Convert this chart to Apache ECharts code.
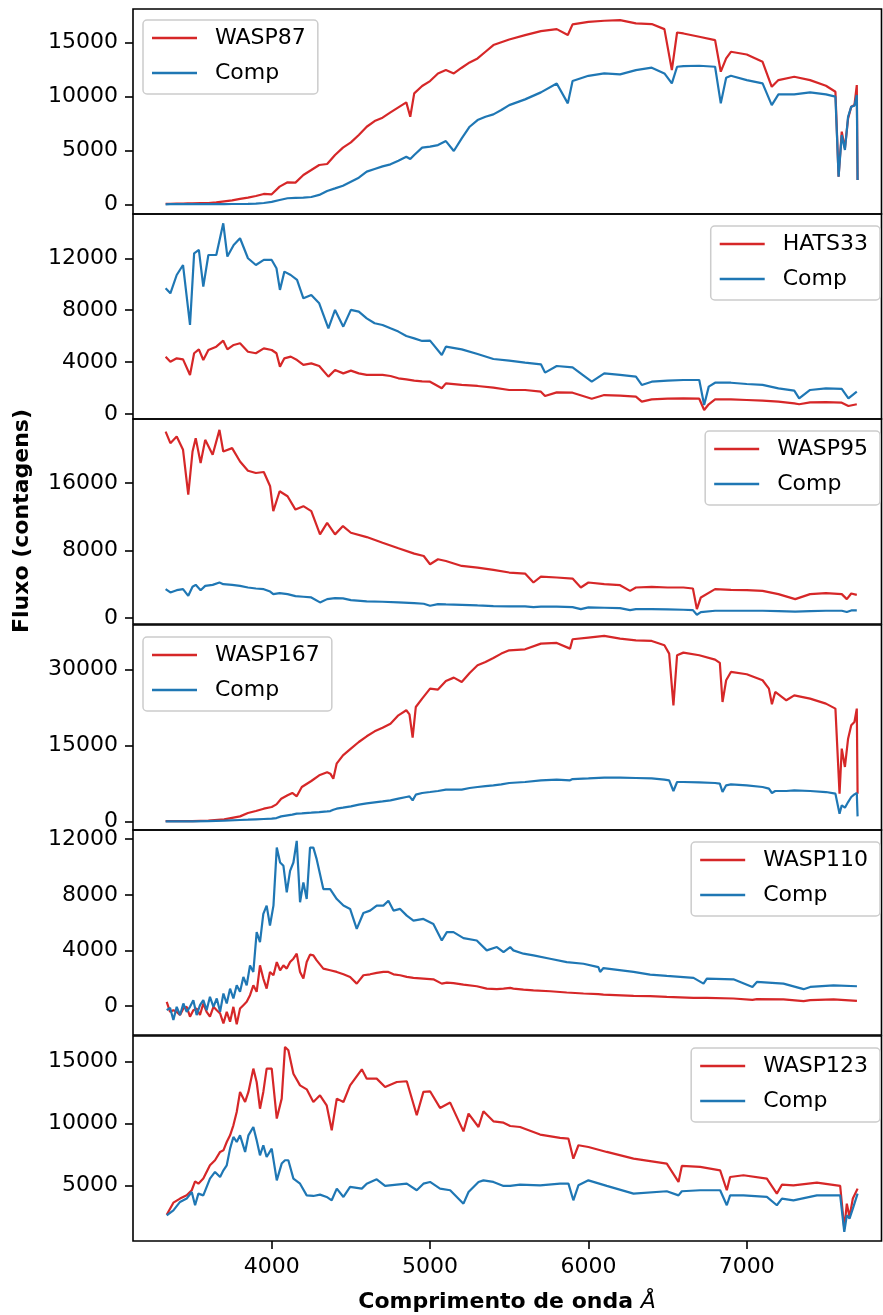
<!DOCTYPE html>
<html>
<head>
<meta charset="utf-8">
<script src="https://cdn.jsdelivr.net/npm/echarts@6/dist/echarts.min.js"></script>
<style>html,body{margin:0;padding:0;background:#fff}#c{width:883px;height:1315px}</style>
</head>
<body>
<div id="c"></div>
<script>
// ---------- data (wavelength in Å, flux in counts) ----------
const xTicks = [4000, 5000, 6000, 7000];

const wl1 = [3330,3360,3400,3440,3470,3500,3550,3600,3650,3700,3750,3800,3850,3900,3950,4000,4050,4100,4150,4200,4250,4300,4350,4400,4450,4500,4550,4600,4650,4700,4750,4800,4850,4875,4900,4950,5000,5050,5100,5150,5200,5250,5300,5350,5400,5450,5500,5600,5700,5800,5870,5900,6000,6100,6200,6300,6400,6480,6527,6560,6600,6700,6800,6836,6870,6900,7000,7100,7158,7200,7300,7400,7500,7560,7580,7600,7620,7640,7660,7680,7695,7700];
const wasp87 = [50,50,60,70,80,90,110,120,180,280,370,500,620,770,960,930,1640,2040,2010,2720,3180,3650,3740,4580,5260,5750,6430,7200,7730,8040,8530,9000,9460,8130,10300,10980,11440,12150,12460,12150,12680,13170,13540,14160,14780,15050,15300,15710,16080,16260,15710,16700,16940,17040,17100,16790,16730,16260,12460,15950,15860,15550,15240,12310,13540,14160,13910,13230,10910,11530,11840,11530,11010,10450,2570,6740,5190,7980,9060,9210,11070,2260];
const comp1 = [0,10,20,20,20,20,20,20,25,25,30,30,40,60,120,220,400,560,590,620,680,870,1240,1480,1730,2100,2470,3030,3280,3520,3710,4050,4420,4200,4580,5260,5350,5500,5870,4950,6120,7200,7820,8130,8350,8750,9210,9740,10390,11220,9370,11440,11930,12150,12060,12460,12680,12150,11220,12770,12830,12860,12770,9370,11750,11930,11530,11220,9210,10200,10200,10390,10200,9990,2570,6430,5040,8130,9060,9150,10140,2260];
const yTicks1 = [0, 5000, 10000, 15000];

const wl2 = [3330,3360,3400,3440,3484,3510,3540,3568,3600,3650,3694,3720,3760,3800,3850,3900,3950,4000,4030,4052,4080,4120,4160,4200,4250,4300,4358,4400,4452,4500,4550,4600,4650,4700,4750,4800,4850,4900,4950,5000,5074,5100,5200,5300,5400,5500,5600,5700,5726,5800,5900,6021,6100,6200,6300,6337,6400,6500,6600,6700,6731,6760,6800,6900,7000,7100,7200,7300,7331,7400,7500,7600,7642,7695];
const hats33 = [4420,4030,4290,4210,3010,4680,4980,4160,4930,5190,5650,4980,5320,5450,4800,4680,5060,4930,4680,3650,4290,4420,4160,3780,3900,3700,2880,3390,3130,3340,3130,3010,3010,3010,2930,2750,2670,2570,2520,2490,1980,2360,2240,2160,2030,1850,1850,1720,1390,1670,1640,1180,1460,1410,1340,950,1130,1180,1210,1180,310,750,1130,1130,1080,1030,950,820,750,900,920,870,620,750];
const comp2 = [9690,9300,10710,11480,6860,12380,12640,9810,12250,12250,14690,12130,13020,13540,12000,11480,11870,11870,11230,9560,10970,10710,10330,8910,9170,8530,6600,8020,6730,8020,7890,7370,6990,6860,6600,6350,6010,5830,5630,5650,4550,5190,4980,4620,4240,4110,3960,3830,3190,3700,3600,2490,3130,3010,2880,2240,2490,2570,2620,2620,690,2110,2410,2410,2310,2240,1980,1800,1210,1850,1980,1930,1210,1720];
const yTicks2 = [0, 4000, 8000, 12000];

const wl3 = [3330,3360,3400,3440,3473,3500,3520,3551,3580,3627,3670,3694,3750,3800,3850,3900,3950,3990,4010,4050,4100,4150,4200,4250,4305,4350,4400,4450,4500,4600,4700,4800,4900,4960,5000,5050,5100,5200,5300,5400,5500,5600,5653,5700,5800,5900,5952,6000,6100,6200,6263,6300,6400,6500,6600,6660,6685,6710,6800,6900,7000,7100,7200,7306,7400,7500,7600,7632,7660,7695];
const wasp95 = [22090,20720,21500,19930,14620,19730,21310,18360,21110,19340,22290,19730,20130,18550,17450,17180,17300,15610,12660,15020,14430,12850,13250,12660,9910,11280,9910,10890,10100,9590,8920,8260,7630,7350,6370,6960,6760,6170,5980,5700,5390,5270,4210,4910,4800,4680,3620,4210,4010,3890,3220,3620,3700,3620,3620,3500,1060,2440,3420,3340,3300,3220,2830,2240,2830,2950,2830,2240,2910,2750];
const comp3 = [3420,3030,3300,3420,2630,3700,3930,3300,3810,3930,4210,4010,3930,3810,3620,3500,3420,3140,2830,2950,2830,2590,2520,2440,1850,2240,2360,2320,2120,1970,1930,1850,1770,1690,1450,1650,1610,1570,1490,1420,1380,1380,1300,1340,1340,1300,1060,1260,1220,1180,940,1060,1060,1020,980,940,390,710,860,860,860,860,830,750,830,860,860,710,900,900];
const yTicks3 = [0, 8000, 16000];

const wl4 = [3330,3400,3500,3600,3700,3800,3850,3900,3950,4000,4030,4060,4100,4130,4158,4190,4250,4300,4350,4370,4389,4410,4450,4500,4550,4600,4650,4700,4750,4800,4850,4870,4890,4910,4950,5000,5050,5100,5150,5200,5250,5300,5350,5400,5450,5500,5600,5700,5800,5884,5900,6000,6100,6200,6300,6400,6480,6510,6537,6560,6600,6700,6800,6830,6847,6870,6900,7000,7100,7140,7159,7180,7250,7300,7400,7500,7560,7586,7600,7620,7640,7660,7680,7695,7700];
const wasp167 = [100,100,130,200,460,1050,1710,2100,2560,2890,3410,4530,5190,5650,4990,6830,8010,9130,9720,9450,8470,11420,13060,14380,15690,16810,17790,18510,19300,20940,21930,21140,16540,22580,24230,26190,26000,27700,28360,27510,29280,30790,31450,32230,33090,33740,33940,35060,35190,34070,35910,36240,36570,36040,35710,35580,34730,33090,22910,32760,33280,32760,31910,31250,23570,27840,29480,29020,27840,26190,23110,25540,23900,24880,24230,23240,22260,5510,14380,10770,16350,18970,19630,22260,5510];
const comp4 = [50,50,70,130,200,330,390,460,530,590,720,1050,1250,1380,1580,1640,1770,1900,2040,2100,2360,2560,2760,3020,3350,3610,3810,4000,4200,4530,4860,4990,4200,5320,5650,5840,6040,6300,6300,6300,6630,6830,7020,7160,7350,7620,7810,8140,8270,8140,8400,8530,8670,8670,8600,8530,8270,8140,6040,7810,7810,7750,7620,7480,5840,7160,7350,7160,6830,6500,5650,6040,6040,6170,6040,5840,5510,1580,3220,2760,3870,4860,5380,5650,1050];
const yTicks4 = [0, 15000, 30000];

const wl5 = [3337,3358,3379,3400,3421,3442,3463,3484,3505,3526,3547,3568,3589,3610,3632,3653,3674,3695,3716,3737,3758,3779,3800,3821,3842,3863,3884,3905,3926,3947,3968,3989,4011,4032,4053,4074,4095,4116,4137,4158,4179,4200,4221,4242,4263,4284,4326,4369,4411,4453,4495,4537,4579,4621,4663,4705,4737,4769,4811,4853,4895,4958,5021,5074,5106,5148,5211,5295,5358,5422,5464,5506,5526,5590,5653,5758,5863,5969,6063,6074,6095,6285,6390,6495,6664,6727,6748,6916,7036,7064,7232,7359,7401,7548,7696];
const wasp110 = [310,-410,-290,-410,-640,-170,-50,-760,-290,-170,-640,190,-410,-760,-50,-290,-520,-1240,-410,-1120,-50,-1310,-170,70,310,790,1500,1030,2930,1980,1260,2460,2220,3170,2580,2930,2700,3170,3410,3770,2460,1980,3170,3700,3650,3290,2700,2580,2460,2290,2100,1620,2220,2290,2390,2460,2460,2290,2220,2100,2030,1980,1930,1620,1690,1650,1550,1430,1260,1220,1260,1310,1260,1190,1140,1070,980,910,860,790,830,740,720,670,600,600,600,550,450,500,480,360,430,480,380];
const comp5 = [-290,-120,-1000,-50,-640,190,-410,-50,430,-640,70,430,-290,670,-50,550,-410,910,190,1260,550,1500,1030,2100,1500,2930,2460,5320,4600,6630,7230,5800,7230,11400,10330,10090,8180,9730,10330,11880,7470,8900,7700,11400,11400,10570,8420,8420,7700,7230,6990,5560,6700,6870,7230,7230,7580,6870,6990,6510,6150,6270,5910,4720,5320,5320,4890,4720,4010,4250,3890,4250,4010,3770,3650,3410,3170,3050,2810,2460,2740,2460,2270,2170,2030,1620,1980,1930,1380,1740,1620,1220,1380,1500,1430];
const yTicks5 = [0, 4000, 8000, 12000];

const wl6 = [3337,3379,3421,3463,3495,3516,3537,3568,3610,3642,3674,3695,3716,3737,3758,3779,3800,3832,3853,3884,3905,3926,3947,3968,4000,4032,4063,4084,4105,4137,4179,4221,4263,4305,4347,4379,4411,4453,4495,4569,4600,4663,4716,4790,4853,4916,4958,5000,5063,5127,5211,5243,5306,5337,5400,5464,5506,5568,5695,5821,5874,5905,5937,6000,6116,6285,6495,6569,6590,6706,6832,6874,6895,6979,7127,7190,7222,7295,7443,7590,7616,7632,7649,7670,7700];
const wasp123 = [2630,3600,3930,4190,4600,5320,5130,5540,6610,7020,7690,7820,8490,9030,9840,10910,12530,11720,12530,14410,13330,11180,12530,14410,14410,10380,11990,16160,15890,14000,13060,12740,11720,12260,11450,9440,11990,11720,13060,14350,13600,13600,12930,13330,13390,10650,12530,12580,11240,11670,9350,10780,9700,10970,10160,10050,9780,9700,9090,8820,8760,7150,8230,8090,7690,7150,6750,5270,6560,6480,6210,4600,5670,5810,5540,4330,5050,5000,5220,4950,1510,3520,2450,3930,4730];
const comp6 = [2580,2980,3660,3930,4460,3390,4330,4190,5540,6080,5670,6210,6610,7960,8900,8490,9030,7690,9030,9700,8630,7420,8230,7280,7960,5400,6750,7020,7020,5540,5130,4190,4140,4250,4060,3790,4730,4060,4870,4730,5130,5480,4950,5050,5130,4600,5130,5270,4730,4600,3520,4460,5270,5400,5270,4950,4950,5050,5000,5130,5130,3790,5000,5400,4950,4330,4520,4190,4520,4600,4600,3390,4190,4190,4060,3390,3930,3790,4190,4190,1240,2580,2310,3120,4330];
const yTicks6 = [5000, 10000, 15000];

// ---------- layout ----------
const FONT = 'DejaVu Sans';
const RED = '#d62728', BLUE = '#1f77b4';
const panels = [
  {wl: wl1, a: wasp87,  b: comp1, name: 'WASP87',  ticks: yTicks1, min: -900,  max: 18130, top: 9,    leg: {left: 143, top: 20}},
  {wl: wl2, a: hats33,  b: comp2, name: 'HATS33',  ticks: yTicks2, min: -385,  max: 15410, top: 214,  leg: {right: 3, top: 226}},
  {wl: wl3, a: wasp95,  b: comp3, name: 'WASP95',  ticks: yTicks3, min: -707,  max: 23580, top: 419,  leg: {right: 3, top: 431}},
  {wl: wl4, a: wasp167, b: comp4, name: 'WASP167', ticks: yTicks4, min: -1634, max: 38720, top: 625,  leg: {left: 143, top: 637}},
  {wl: wl5, a: wasp110, b: comp5, name: 'WASP110', ticks: yTicks5, min: -2075, max: 12665, top: 830,  leg: {right: 3, top: 842}},
  {wl: wl6, a: wasp123, b: comp6, name: 'WASP123', ticks: yTicks6, min: 508,   max: 17040, top: 1036, leg: {right: 3, top: 1048}}
];

const plain = v => String(v);
const grids = [], xAxes = [], yAxes = [], series = [], legends = [];
panels.forEach((p, i) => {
  grids.push({left: 133, width: 748.5, top: p.top, height: 205, show: true,
    borderColor: '#000', borderWidth: 1.6, backgroundColor: 'transparent'});
  const last = i === panels.length - 1;
  xAxes.push({gridIndex: i, type: 'value', min: 3124, max: 7851,
    splitLine: {show: false}, axisLine: {show: false},
    axisTick: {show: last, customValues: xTicks, length: 8, lineStyle: {color: '#000', width: 1.6}},
    axisLabel: {show: last, customValues: xTicks, formatter: plain, fontSize: 22, color: '#000', fontFamily: FONT, margin: 15}});
  yAxes.push({gridIndex: i, type: 'value', min: p.min, max: p.max,
    splitLine: {show: false}, axisLine: {show: false},
    axisTick: {show: true, customValues: p.ticks, length: 8, lineStyle: {color: '#000', width: 1.6}},
    axisLabel: {customValues: p.ticks, formatter: plain, fontSize: 22, color: '#000', fontFamily: FONT, margin: 15}});
  [[p.name, p.a, RED], ['Comp', p.b, BLUE]].forEach(([nm, arr, col]) => {
    series.push({type: 'line', name: nm, xAxisIndex: i, yAxisIndex: i,
      data: p.wl.map((w, k) => [w, arr[k]]),
      symbol: 'none', showSymbol: false, silent: true, animation: false,
      lineStyle: {color: col, width: 2.2}, itemStyle: {color: col}});
  });
  legends.push(Object.assign({
    data: [p.name, 'Comp'], orient: 'vertical',
    icon: 'rect', itemWidth: 45, itemHeight: 2.4, itemGap: 11,
    padding: [6, 12, 9, 9],
    borderColor: '#cccccc', borderWidth: 1.5, borderRadius: 4,
    backgroundColor: 'rgba(255,255,255,0.8)',
    textStyle: {fontFamily: FONT, fontSize: 22, color: '#000', lineHeight: 24, padding: [0, 0, 0, 13]}
  }, p.leg));
});

const chart = echarts.init(document.getElementById('c'), null, {renderer: 'canvas'});
chart.setOption({
  backgroundColor: '#fff',
  animation: false,
  grid: grids, xAxis: xAxes, yAxis: yAxes, series: series, legend: legends,
  graphic: [
    {type: 'text', x: 507, y: 1302, silent: true,
      style: {text: '{b|Comprimento de onda }{i|Å}', align: 'center', verticalAlign: 'middle',
        rich: {b: {fontWeight: 'bold', fontSize: 22, fontFamily: FONT, fill: '#000'},
               i: {fontStyle: 'italic', fontSize: 22, fontFamily: FONT, fill: '#000'}}}},
    {type: 'text', x: 22, y: 521, rotation: Math.PI / 2, silent: true,
      style: {text: 'Fluxo (contagens)', font: 'bold 22px "DejaVu Sans"', fill: '#000',
        align: 'center', verticalAlign: 'middle'}}
  ]
});
</script>
</body>
</html>
